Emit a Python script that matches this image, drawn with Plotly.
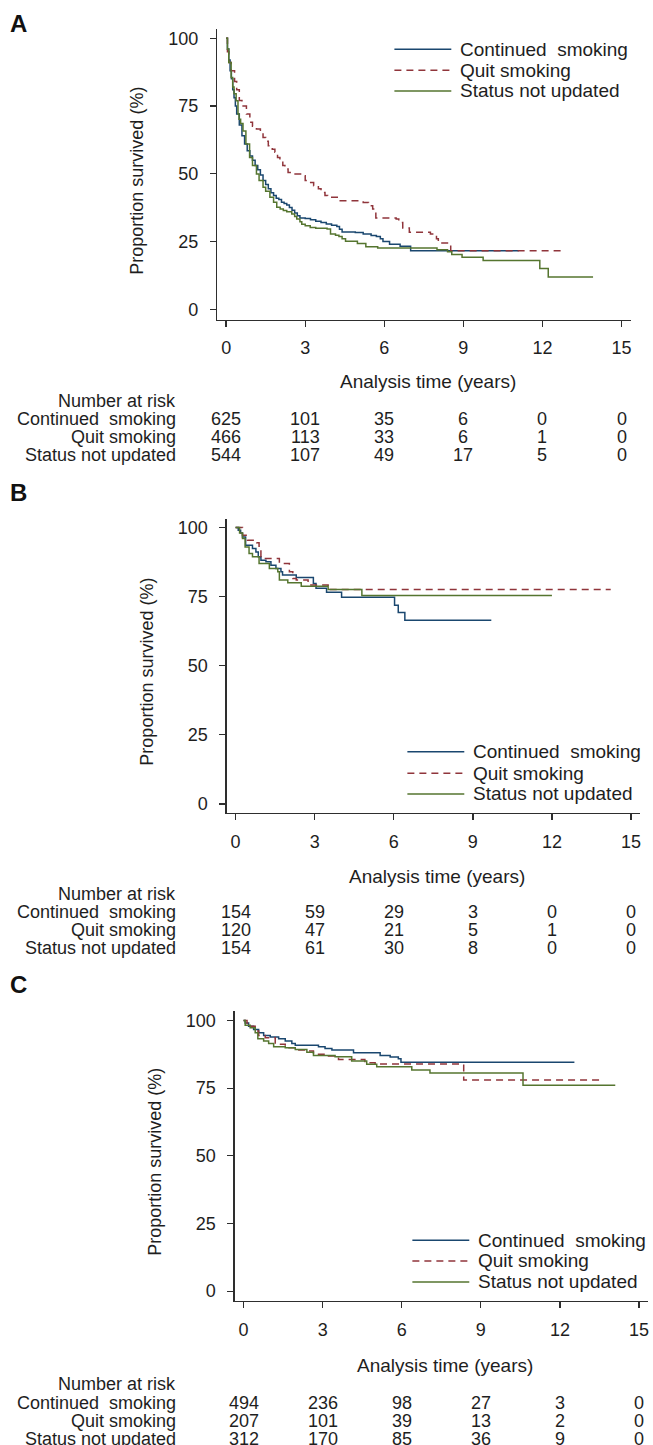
import plotly.graph_objects as go

W, H = 653, 1445
FONT = "Liberation Sans, Arial, Helvetica, sans-serif"
TXT = "#1e1e1e"
AX = "#2e2e2e"
TS = 19   # size of legend / x-title text
TR = 18   # size of the number-at-risk table text
TK = 18   # size of tick labels and y-title

series_names = ["Continued  smoking", "Quit smoking", "Status not updated"]
colors = ["#1a476f", "#90353b", "#55752f"]
dashes = ["solid", "7px,5px", "solid"]

# ---------------- Panel A ----------------
a_cont_t = [0, 0.05, 0.1, 0.15, 0.2, 0.25, 0.3, 0.35, 0.4, 0.5, 0.6, 0.7, 0.8, 0.9, 1.0, 1.1, 1.2, 1.3, 1.4, 1.5,
            1.6, 1.7, 1.8, 1.9, 2.0, 2.1, 2.2, 2.3, 2.4, 2.5, 2.6, 2.7, 2.8, 3.0, 3.2, 3.4, 3.6, 3.8, 4.0, 4.2,
            4.3, 4.4, 4.9, 5.2, 5.5, 5.7, 5.85, 5.95, 6.2, 6.6, 7.0, 11.1]
a_cont_s = [100, 96, 92, 88, 85, 81, 78, 75, 72, 68, 64, 61, 58.5, 56.5, 55, 53, 51.5, 49.5, 47.5, 46,
            44.5, 43, 42, 41, 40.5, 39.5, 39, 38.5, 37.5, 36.5, 35.5, 34.5, 33.7, 33.5, 33.0, 32.5, 32.0, 31.5, 31.0, 30.5,
            29.5, 28.5, 28.3, 27.8, 27.2, 26.8, 26.0, 25.0, 24.0, 23.2, 21.6, 21.6]
a_quit_t = [0, 0.05, 0.1, 0.19, 0.32, 0.4, 0.5, 0.6, 0.77, 0.9, 1.0, 1.15, 1.3, 1.4, 1.5, 1.6, 1.75, 1.85, 1.95, 2.04,
            2.15, 2.23, 2.35, 2.43, 2.9, 3.0, 3.1, 3.32, 3.5, 3.6, 3.75, 3.85, 4.3, 5.2, 5.4, 5.56, 5.68, 6.45, 6.55, 6.7,
            6.95, 7.75, 7.98, 8.05, 8.52, 12.87]
a_quit_s = [100, 95, 91, 88, 84, 81, 77, 75, 72, 69, 67.5, 66.5, 65, 63.4, 62, 60.3, 59, 57.9, 56, 54.8,
            53, 51.7, 50.5, 49.9, 49.3, 47.5, 46.8, 45.6, 44.5, 43.1, 42, 41.3, 40.0, 39.4, 38.2, 37.0, 33.7, 33.3, 32.0, 30.0,
            28.4, 27.8, 26.0, 24.4, 21.6, 21.6]
a_stat_t = [0, 0.05, 0.1, 0.19, 0.25, 0.3, 0.38, 0.45, 0.49, 0.55, 0.64, 0.75, 0.89, 1.0, 1.15, 1.25, 1.4, 1.5, 1.66, 1.8,
            1.92, 2.05, 2.17, 2.3, 2.49, 2.6, 2.68, 2.8, 2.87, 3.0, 3.19, 3.4, 3.83, 3.96, 4.15, 4.28, 4.4, 4.53, 4.98, 5.3,
            5.75, 8.0, 8.4, 8.56, 8.95, 9.75, 11.9, 12.22, 13.92]
a_stat_s = [100, 96, 91, 85.5, 82, 79.5, 76.9, 72, 70.1, 68.5, 65.8, 61, 56, 53, 49.9, 47.5, 45, 43.5, 41.3, 39.5,
            37.6, 37, 36.4, 36, 35.1, 34.2, 33.3, 32.3, 31.4, 30.8, 30.2, 29.9, 29.6, 27.8, 27.3, 26.8, 26, 25.1, 24.3, 23.1,
            22.6, 22.0, 21.2, 20.2, 19.2, 18.0, 15.0, 11.9, 11.9]

# ---------------- Panel B ----------------
b_cont_t = [0, 0.1, 0.19, 0.26, 0.38, 0.64, 0.77, 0.86, 0.96, 1.15, 1.34, 1.53, 1.72, 1.78, 2.3, 2.95, 3.05, 3.45, 4.02,
            6.03, 6.17, 6.42, 9.7]
b_cont_s = [100, 99, 98, 96.6, 93.6, 92.4, 91.2, 89.4, 88.2, 87.6, 86.4, 85.2, 84.0, 82.8, 81.9, 79.8, 78.0, 76.6, 74.8,
            71.9, 69.3, 66.5, 66.5]
b_quit_t = [0, 0.26, 0.45, 0.8, 0.89, 0.96, 1.66, 2.04, 2.17, 2.3, 2.75, 3.51, 14.23]
b_quit_s = [100, 97.2, 95.4, 94.5, 91.8, 88.8, 87.0, 84.0, 81.6, 81.0, 79.2, 77.6, 77.6]
b_stat_t = [0, 0.15, 0.26, 0.36, 0.51, 0.64, 0.89, 1.28, 1.6, 1.66, 1.98, 2.49, 3.51, 4.79, 12.0]
b_stat_s = [100, 98, 96, 93, 90.6, 89.4, 87.0, 85.2, 84.0, 81.0, 80.0, 78.8, 77.6, 75.4, 75.4]

# ---------------- Panel C ----------------
c_cont_t = [0, 0.06, 0.19, 0.38, 0.57, 0.76, 1.01, 1.33, 1.58, 1.83, 1.96, 2.84, 3.09, 3.35, 4.17, 5.18, 5.56, 5.87,
            5.97, 12.55]
c_cont_s = [100, 99.1, 97.9, 96.7, 95.5, 94.5, 93.9, 93.3, 92.4, 91.5, 90.9, 90.3, 89.7, 89.1, 88.1, 87.1, 86.5, 85.9,
            84.6, 84.6]
c_quit_t = [0, 0.13, 0.25, 0.44, 0.57, 0.82, 1.2, 1.58, 1.96, 2.4, 2.65, 3.22, 3.6, 4.6, 4.99, 8.35, 13.67]
c_quit_s = [100, 99.1, 97.9, 96.1, 94.5, 93.6, 91.2, 89.9, 89.1, 88.7, 87.5, 86.9, 85.6, 84.4, 83.9, 78.0, 78.0]
c_stat_t = [0, 0.06, 0.25, 0.44, 0.54, 0.76, 0.95, 1.14, 1.58, 1.96, 2.4, 2.65, 3.47, 4.1, 4.67, 5.05, 6.38, 7.07,
            10.6, 14.1]
c_stat_s = [100, 98.2, 97.3, 95.5, 93.3, 92.4, 91.5, 90.3, 89.9, 89.3, 88.3, 87.1, 86.6, 85.0, 83.8, 82.9, 81.7, 80.6,
            76.1, 76.1]

# ---------------- Number at risk ----------------
risk_times = [0, 3, 6, 9, 12, 15]
a_risk_cont = [625, 101, 35, 6, 0, 0]
a_risk_quit = [466, 113, 33, 6, 1, 0]
a_risk_stat = [544, 107, 49, 17, 5, 0]
b_risk_cont = [154, 59, 29, 3, 0, 0]
b_risk_quit = [120, 47, 21, 5, 1, 0]
b_risk_stat = [154, 61, 30, 8, 0, 0]
c_risk_cont = [494, 236, 98, 27, 3, 0]
c_risk_quit = [207, 101, 39, 13, 2, 0]
c_risk_stat = [312, 170, 85, 36, 9, 0]

x_ticks = [0, 3, 6, 9, 12, 15]
y_ticks = [0, 25, 50, 75, 100]
x_title = "Analysis time (years)"
y_title = "Proportion survived (%)"
risk_title = "Number at risk"


def fx(p):
    return p / W


def fy(p):
    return 1 - p / H


# layout (pixel geometry) per panel
panels = [
    dict(label="A", curves=[(a_cont_t, a_cont_s), (a_quit_t, a_quit_s), (a_stat_t, a_stat_s)],
         risk=[a_risk_cont, a_risk_quit, a_risk_stat],
         left=217.5, top=28.3, bottom=319.0, yr=[-3.8, 103.3], letter_y=22.5,
         leg_y=[48.3, 69.3, 90.0], leg_x=395, risk_y=[400.5, 419, 437, 455], xt_y=381),
    dict(label="B", curves=[(b_cont_t, b_cont_s), (b_quit_t, b_quit_s), (b_stat_t, b_stat_s)],
         risk=[b_risk_cont, b_risk_quit, b_risk_stat],
         left=227.0, top=518.3, bottom=813.3, yr=[-3.36, 103.25], letter_y=492,
         leg_y=[751.7, 773.3, 794.0], leg_x=408, risk_y=[894, 912.5, 930.5, 948.5], xt_y=877),
    dict(label="C", curves=[(c_cont_t, c_cont_s), (c_quit_t, c_quit_s), (c_stat_t, c_stat_s)],
         risk=[c_risk_cont, c_risk_quit, c_risk_stat],
         left=235.0, top=1011.7, bottom=1301.7, yr=[-3.6, 103.4], letter_y=985,
         leg_y=[1241.0, 1261.7, 1282.7], leg_x=413, risk_y=[1385, 1403.5, 1421.5, 1439.5], xt_y=1366),
]

XR = [-0.34, 15.35]
PX_PER_YEAR = 26.4

fig = go.Figure()
annotations = []
shapes = []
layout_axes = {}

for i, p in enumerate(panels):
    n = "" if i == 0 else str(i + 1)
    xa, ya = "x" + n, "y" + n
    right = p["left"] + (XR[1] - XR[0]) * PX_PER_YEAR
    right = min(right, W)
    for k, (t, s) in enumerate(p["curves"]):
        fig.add_trace(go.Scatter(
            x=t, y=s, mode="lines", name=series_names[k], showlegend=False,
            line=dict(color=colors[k], width=1.5, dash=dashes[k], shape="hv"),
            xaxis=xa, yaxis=ya, hoverinfo="skip"))
    common = dict(showline=True, linecolor=AX, linewidth=1.3, ticks="outside", ticklen=6,
                  tickwidth=1.3, tickcolor=AX, showgrid=False, zeroline=False,
                  tickfont=dict(family=FONT, size=TK, color=TXT))
    layout_axes["xaxis" + n] = dict(domain=[fx(p["left"]), fx(right)],
                                   range=[XR[0], XR[0] + (right - p["left"]) / PX_PER_YEAR],
                                   tickvals=x_ticks, anchor=ya, ticklabelstandoff=6, **common)
    layout_axes["yaxis" + n] = dict(domain=[fy(p["bottom"]), fy(p["top"])], range=p["yr"],
                                   tickvals=y_ticks, anchor=xa, ticklabelstandoff=8, **common)

    # panel letter
    annotations.append(dict(text="<b>%s</b>" % p["label"], x=fx(19), y=fy(p["letter_y"]),
                            xref="paper", yref="paper", showarrow=False, xanchor="center", yanchor="middle",
                            font=dict(family=FONT, size=24, color="#111")))
    # y title
    annotations.append(dict(text=y_title, textangle=-90, x=fx(p["left"] - 80),
                            y=fy((p["top"] + p["bottom"]) / 2 + 6), xref="paper", yref="paper",
                            showarrow=False, xanchor="center", yanchor="middle",
                            font=dict(family=FONT, size=TK, color=TXT)))
    # x title
    annotations.append(dict(text=x_title, x=fx(p["left"] + 211), y=fy(p["xt_y"]), xref="paper", yref="paper",
                            showarrow=False, xanchor="center", yanchor="middle",
                            font=dict(family=FONT, size=TS, color=TXT)))
    # legend
    for k in range(3):
        shapes.append(dict(type="line", xref="paper", yref="paper",
                           x0=fx(p["leg_x"]), x1=fx(p["leg_x"] + 57),
                           y0=fy(p["leg_y"][k]), y1=fy(p["leg_y"][k]),
                           line=dict(color=colors[k], width=1.5, dash=dashes[k])))
        annotations.append(dict(text=series_names[k], x=fx(p["leg_x"] + 64), y=fy(p["leg_y"][k]),
                                xref="paper", yref="paper", showarrow=False, xanchor="left", yanchor="middle",
                                font=dict(family=FONT, size=TS, color=TXT)))
    # number at risk table
    annotations.append(dict(text=risk_title, x=fx(178), y=fy(p["risk_y"][0]), xref="paper", yref="paper",
                            showarrow=False, xanchor="right", yanchor="middle",
                            font=dict(family=FONT, size=TR, color=TXT)))
    for k in range(3):
        ry = fy(p["risk_y"][k + 1])
        annotations.append(dict(text=series_names[k], x=fx(178), y=ry, xref="paper", yref="paper",
                                showarrow=False, xanchor="right", yanchor="middle",
                                font=dict(family=FONT, size=TR, color=TXT)))
        for t, v in zip(risk_times, p["risk"][k]):
            annotations.append(dict(text=str(v), x=t, y=ry, xref=xa, yref="paper",
                                    showarrow=False, xanchor="center", yanchor="middle",
                                    font=dict(family=FONT, size=TR, color=TXT)))

fig.update_layout(width=W, height=H, autosize=False, margin=dict(l=0, r=0, t=0, b=0, pad=0),
                  paper_bgcolor="white", plot_bgcolor="white", showlegend=False,
                  font=dict(family=FONT, size=TK, color=TXT),
                  annotations=annotations, shapes=shapes, **layout_axes)

# remove the browser's default 8px body margin so the figure sits at the page origin
fig.write_html("out.html", config={"displayModeBar": False, "staticPlot": True},
               post_script="document.body.style.margin='0';document.body.style.overflow='hidden';")
